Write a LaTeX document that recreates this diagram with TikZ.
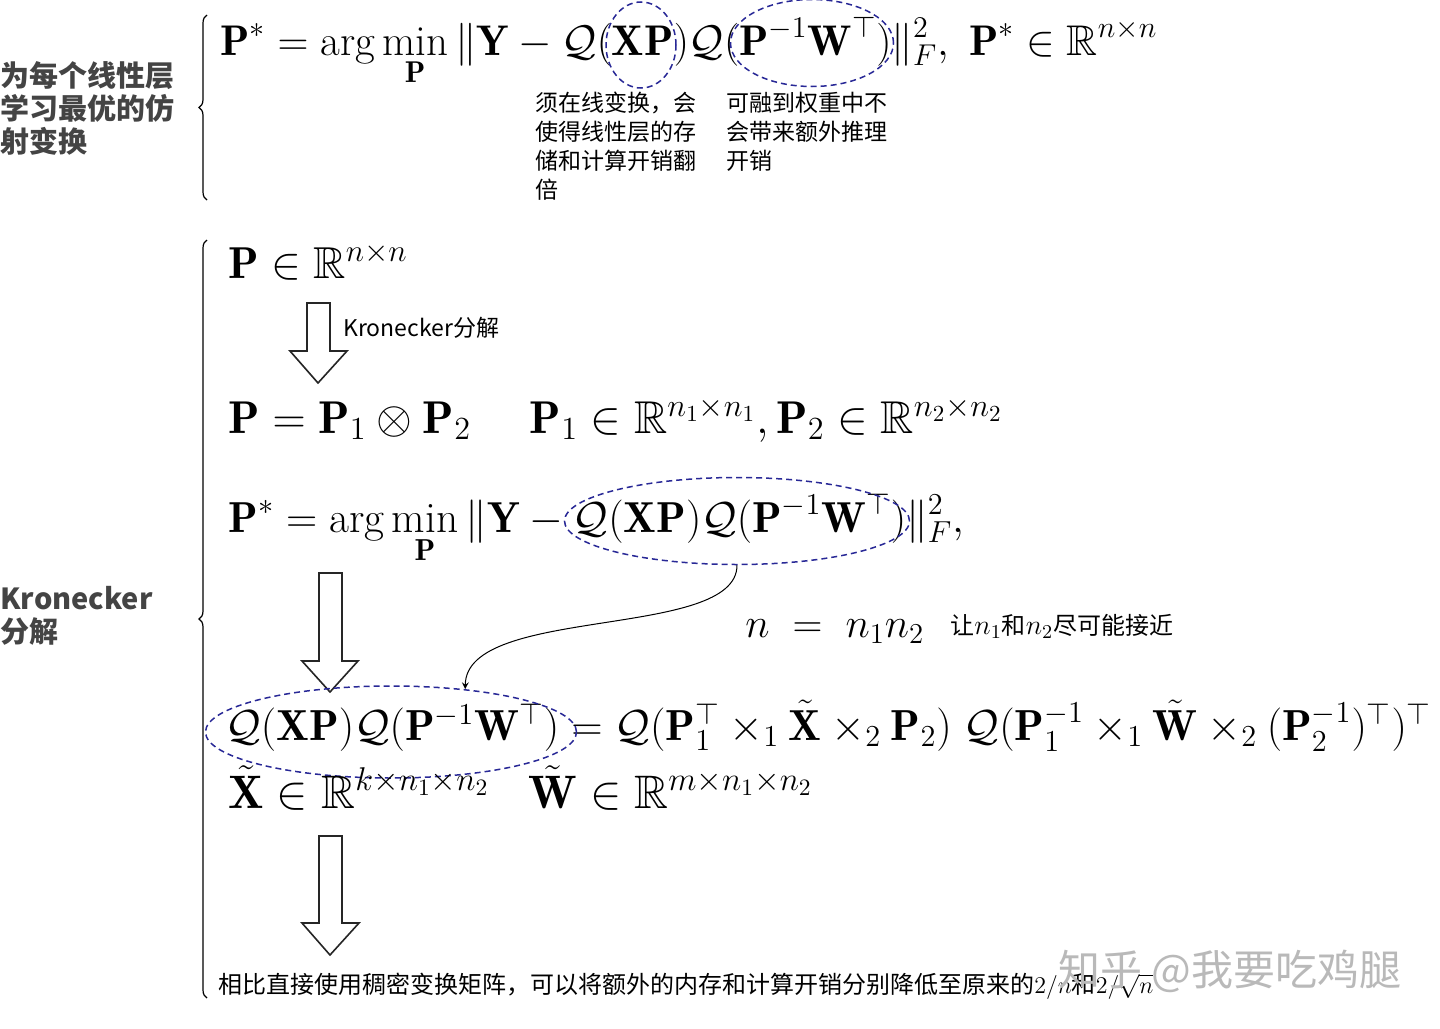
\RequirePackage{fix-cm}
\documentclass[tikz,border=0pt]{standalone}
\usepackage{amsmath,amssymb}
\usepackage{fontspec}
\newfontfamily\cjk{Noto Sans CJK SC}
\usetikzlibrary{shapes.geometric,arrows,decorations.pathreplacing,positioning}
\definecolor{hlblue}{RGB}{40,40,150}
\definecolor{sidegray}{RGB}{68,68,68}
\tikzset
{
    eq/.style       = {anchor=base west, inner sep=0pt, font=\fontsize{#1}{24}\selectfont},
    eq/.default     = 20.74,
    note/.style     = {anchor=north west, align=left, inner sep=0pt, font=\cjk\fontsize{11.5}{14.5}\selectfont},
    side/.style     = {anchor=west, align=left, inner sep=0pt, text=sidegray, font=\cjk\bfseries\fontsize{14.5}{16.5}\selectfont},
    hl/.style       = {ellipse, draw=hlblue, line width=0.75pt, dash pattern=on 3pt off 2pt, inner sep=0pt},
    bigarrow/.style = {draw=black!85, line width=0.8pt, fill=white},
    curly/.style    = {draw, line width=0.6pt, decorate, decoration={brace, amplitude=4pt}},
    arrow/.style    = {->, >=stealth, line width=0.5pt}
}
\begin{document}
\begin{tikzpicture}[x=0.5pt, y=-0.5pt]
	\useasboundingbox (0,0) rectangle (1440,1028);

	% left labels and braces
	\node (lab1) [side] at (0,108) {为每个线性层\\学习最优的仿\\射变换};
	\node (lab2) [side] at (0,616) {Kronecker\\分解};
	\draw [curly] (207,200) -- (207,15);
	\draw [curly] (207,998) -- (207,240);

	% per-layer affine transform
	\node (f1) [eq=21.47] at (220,55) {$\displaystyle \mathbf{P}^* = \arg\min_{\mathbf{P}} \|\mathbf{Y} - \mathcal{Q}(\mathbf{XP})\mathcal{Q}(\mathbf{P}^{-1}\mathbf{W}^\top)\|_F^2,\ \mathbf{P}^* \in \mathbb{R}^{n\times n}$};
	\node (e1) [hl, minimum width=35pt, minimum height=43pt] at (641,45) {};
	\node (e2) [hl, minimum width=81.5pt, minimum height=43.5pt] at (812,43) {};
	\node (n1) [note] at (535,92) {须在线变换，会\\使得线性层的存\\储和计算开销翻\\倍};
	\node (n2) [note] at (726,92) {可融到权重中不\\会带来额外推理\\开销};

	% Kronecker decomposition
	\node (f2) [eq=22.35] at (228,278) {$\mathbf{P} \in \mathbb{R}^{n\times n}$};
	\draw [bigarrow] (307,303) -- (330,303) -- (330,351) -- (347,351) -- (318,383) -- (290,351) -- (307,351) -- cycle;
	\node (k1) [anchor=west, inner sep=0pt, font=\cjk\fontsize{11.5}{14}\selectfont] at (343,328) {Kronecker分解};
	\node (f3) [eq=23] at (228,433) {$\mathbf{P} = \mathbf{P}_1 \otimes \mathbf{P}_2 \quad\; \mathbf{P}_1 \in \mathbb{R}^{n_1\times n_1}, \mathbf{P}_2 \in \mathbb{R}^{n_2\times n_2}$};
	\node (f4) [eq=21.68] at (228,532) {$\displaystyle \mathbf{P}^* = \arg\min_{\mathbf{P}} \|\mathbf{Y} - \mathcal{Q}(\mathbf{XP})\mathcal{Q}(\mathbf{P}^{-1}\mathbf{W}^\top)\|_F^2,$};
	\node (e3) [hl, minimum width=172.5pt, minimum height=43.5pt] at (737,521) {};
	\draw [bigarrow] (319,573) -- (342,573) -- (342,661) -- (358,661) -- (330,692) -- (302,661) -- (319,661) -- cycle;
	\node (f5) [eq] at (745,637) {$n \;=\; n_1 n_2$};
	\node (n3) [anchor=base west, inner sep=0pt, font=\cjk\fontsize{12}{14}\selectfont] at (950,634) {让{\fontsize{14}{14}\selectfont$n_1$}和{\fontsize{14}{14}\selectfont$n_2$}尽可能接近};
	\node (f6) [eq=21.73] at (225,740) {$\mathcal{Q}(\mathbf{XP})\mathcal{Q}(\mathbf{P}^{-1}\mathbf{W}^\top) = \mathcal{Q}(\mathbf{P}_1^\top \times_1 \tilde{\mathbf{X}} \times_2 \mathbf{P}_2)\;\mathcal{Q}(\mathbf{P}_1^{-1} \times_1 \tilde{\mathbf{W}} \times_2 (\mathbf{P}_2^{-1})^\top)^\top$};
	\node (e4) [hl, minimum width=185.5pt, minimum height=46pt] at (391,732) {};
	\draw [arrow] (e3.south) .. controls (737,640) and (466,605) .. (e4.30);
	\node (f7) [eq=23.5] at (228,808) {$\tilde{\mathbf{X}} \in \mathbb{R}^{k\times n_1\times n_2} \;\;\; \tilde{\mathbf{W}} \in \mathbb{R}^{m\times n_1\times n_2}$};
	\draw [bigarrow] (319,836) -- (342,836) -- (342,923) -- (359,923) -- (330,955) -- (302,923) -- (319,923) -- cycle;
	\node (f8) [anchor=base west, inner sep=0pt, font=\cjk\fontsize{12}{14}\selectfont] at (218,993) {相比直接使用稠密变换矩阵，可以将额外的内存和计算开销分别降低至原来的$2/n$和$2/\sqrt{n}$};

	% watermark
	\node (wm) [anchor=base west, inner sep=0pt, text=gray!55, font=\cjk\fontsize{21}{24}\selectfont] at (1058,985) {知乎 @我要吃鸡腿};
\end{tikzpicture}
\end{document}
